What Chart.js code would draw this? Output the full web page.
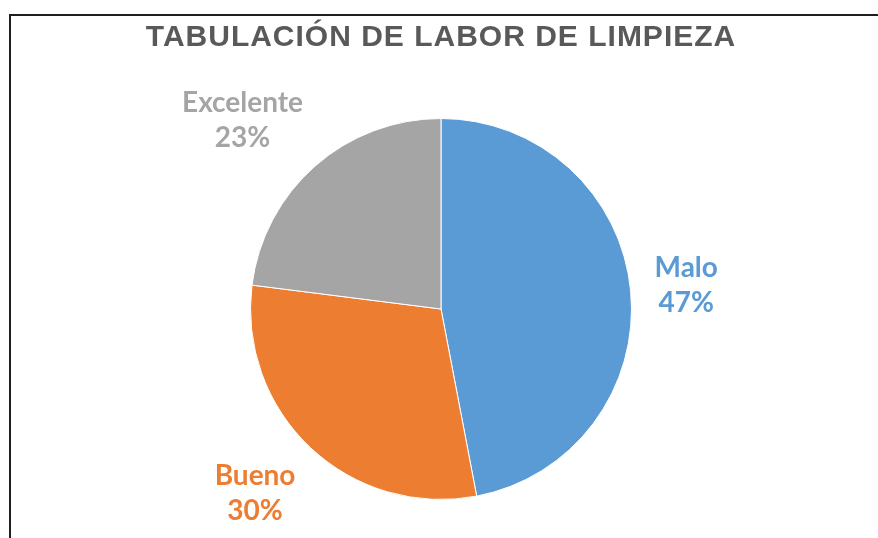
<!DOCTYPE html>
<html>
<head>
<meta charset="utf-8">
<script src="https://cdn.jsdelivr.net/npm/chart.js@4.4.1/dist/chart.umd.min.js"></script>
<style>
    html, body { margin: 0; padding: 0; background: #ffffff; }
    #wrap { position: relative; width: 878px; height: 538px; overflow: hidden; }
    #frame {
        position: absolute; left: 9px; top: 14px; right: -10px; bottom: -10px;
        border-top: 2px solid #1e1e1e; border-left: 2px solid #1e1e1e;
        pointer-events: none;
    }
</style>
</head>
<body>
<div id="wrap">
    <canvas id="myChart" width="878" height="538"></canvas>
    <div id="frame"></div>
</div>
<script>
const categories = ['Malo', 'Bueno', 'Excelente'];
const percentages = [47, 30, 23];
const sliceColors = ['#5B9BD5', '#ED7D31', '#A5A5A5'];
const labelColors = ['#5B9BD5', '#ED7D31', '#A5A5A5'];
const chartTitle = 'TABULACIÓN DE LABOR DE LIMPIEZA';

// title is a bit wider in the original, spread letters only while it is drawn
const titleSpacing = {
    id: 'titleSpacing',
    beforeDraw(chart) { chart.ctx.letterSpacing = '1px'; },
    beforeDatasetsDraw(chart) { chart.ctx.letterSpacing = '0px'; }
};

// outside-end labels, anchored just beyond the rim along the slice middle
const outsideLabels = {
    id: 'outsideLabels',
    afterDatasetsDraw(chart) {
        const ctx = chart.ctx;
        const meta = chart.getDatasetMeta(0);
        const values = chart.data.datasets[0].data;
        const total = values.reduce((a, b) => a + b, 0);
        const fontSize = 28;
        const lineH = 35;
        const gap = 24;
        const f = v => Math.max(-1, Math.min(1, v * 1.414));
        ctx.save();
        ctx.letterSpacing = '0px';
        ctx.font = 'bold ' + fontSize + 'px Lato';
        ctx.textAlign = 'center';
        ctx.textBaseline = 'middle';
        meta.data.forEach(function(arc, i) {
            const p = arc.getProps(['x', 'y', 'startAngle', 'endAngle', 'outerRadius'], true);
            const mid = (p.startAngle + p.endAngle) / 2;
            const ux = Math.cos(mid), uy = Math.sin(mid);
            const lines = [chart.data.labels[i], Math.round(values[i] / total * 100) + '%'];
            const w = Math.max.apply(null, lines.map(l => ctx.measureText(l).width));
            const h = (lines.length - 1) * lineH + fontSize * 0.75;
            const ax = p.x + ux * (p.outerRadius + gap);
            const ay = p.y + uy * (p.outerRadius + gap);
            const cx = ax + f(ux) * w / 2;
            const cy = ay + f(uy) * h / 2;
            ctx.fillStyle = labelColors[i];
            lines.forEach(function(l, k) {
                ctx.fillText(l, cx, cy + (k - (lines.length - 1) / 2) * lineH);
            });
        });
        ctx.restore();
    }
};

const ctx = document.getElementById('myChart').getContext('2d');

new Chart(ctx, {
    type: 'pie',
    data: {
        labels: categories,
        datasets: [{
            data: percentages,
            backgroundColor: sliceColors,
            borderColor: '#FFFFFF',
            borderWidth: 1,
            hoverOffset: 0
        }]
    },
    options: {
        responsive: false,
        animation: false,
        layout: {
            padding: { top: 0, left: 4, right: 0, bottom: 38 }
        },
        plugins: {
            legend: { display: false },
            tooltip: { enabled: false },
            title: {
                display: true,
                text: chartTitle,
                color: '#595959',
                font: { family: "'Liberation Sans', Arial", size: 30, weight: 'bold', lineHeight: 1.2 },
                padding: { top: 19.3, bottom: 62.7 }
            }
        }
    },
    plugins: [titleSpacing, outsideLabels]
});
</script>
</body>
</html>
